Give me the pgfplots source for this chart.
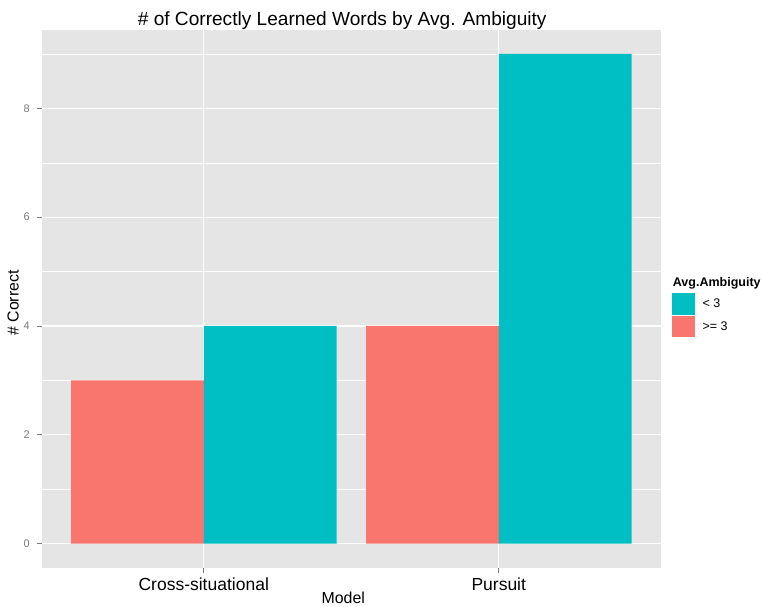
\documentclass[border=0pt]{standalone}
\usepackage{fontspec}
\setmainfont{Liberation Sans}
\usepackage{pgfplots}
\pgfplotsset{compat=1.18}
\definecolor{ggred}{HTML}{F8766D}
\definecolor{ggcyan}{HTML}{00BFC4}
\definecolor{panelbg}{HTML}{E5E5E5}
\definecolor{tickgray}{HTML}{7A7A7A}
\begin{document}
\begin{tikzpicture}
\useasboundingbox (0pt,0pt) rectangle (763pt,-606pt);
\begin{axis}[
  at={(41.5pt,-568pt)}, anchor=south west,
  scale only axis, width=619.5pt, height=538.5pt,
  xmin=-0.55, xmax=1.55, ymin=-0.45, ymax=9.45,
  axis background/.style={fill=panelbg},
  axis line style={draw=none},
  xtick={0,1}, xticklabels={Cross-situational,Pursuit},
  ytick={0,2,4,6,8}, minor ytick={1,3,5,7,9},
  xmajorgrids, ymajorgrids, yminorgrids,
  major grid style={white, line width=1.1pt},
  minor grid style={white, line width=0.5pt},
  tick align=outside, major tick length=5pt, minor tick length=0pt,
  tick style={tickgray, line width=0.8pt},
  xtick pos=lower, ytick pos=left,
  /pgf/number format/assume math mode=true,
  x tick label style={font=\fontsize{17.5}{20}\selectfont, text=black, inner sep=0pt, yshift=-5pt},
  y tick label style={font=\fontsize{11}{12}\selectfont, text=tickgray, inner sep=0pt, xshift=-6.5pt},
  reverse legend,
  legend style={at={(1.01776,0.51124)}, anchor=north west, draw=none, fill=none,
    inner sep=0pt, row sep=1.3pt, font=\fontsize{12.5}{14}\selectfont,
    /tikz/every odd column/.append style={column sep=5.5pt}},
  legend cell align=left,
]
\addplot[ybar, bar width=0.45, bar shift=-0.225, fill=ggred, draw=none,
  legend image code/.code={\fill[ggred] (0pt,-10.8pt) rectangle (22.8pt,10.8pt);}]
  coordinates {(0,3) (1,4)};
\addlegendentry{>= 3}
\addplot[ybar, bar width=0.45, bar shift=0.225, fill=ggcyan, draw=none,
  legend image code/.code={\fill[ggcyan] (0pt,-10.8pt) rectangle (22.8pt,10.8pt);}]
  coordinates {(0,4) (1,9)};
\addlegendentry{< 3}
\end{axis}
\node[anchor=base, font=\fontsize{19.1}{22}\selectfont] at (342.2pt,-25pt) {\# of Correctly Learned Words by Avg. Ambiguity};
\node[anchor=base, font=\fontsize{15.9}{18}\selectfont] at (343.3pt,-603pt) {Model};
\node[anchor=base, rotate=90, font=\fontsize{15.9}{18}\selectfont] at (18.5pt,-303pt) {\# Correct};
\node[anchor=base west, inner sep=0pt, font=\bfseries\fontsize{12.5}{14}\selectfont] at (672.7pt,-286.7pt) {Avg.Ambiguity};
\end{tikzpicture}
\end{document}
